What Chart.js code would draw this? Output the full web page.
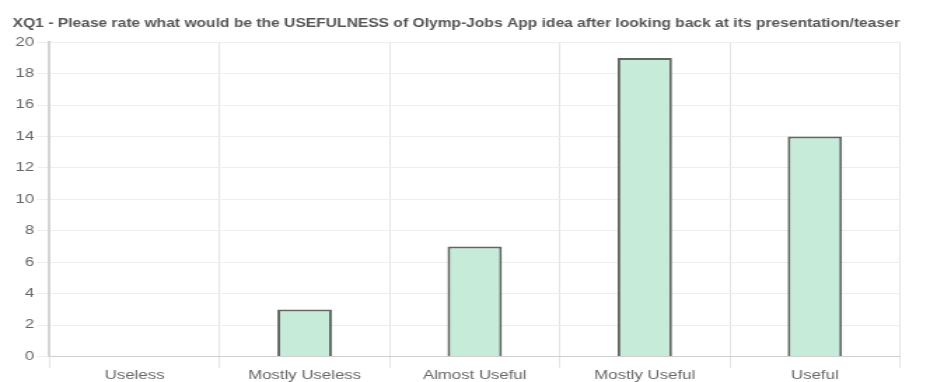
<!DOCTYPE html>
<html>
<head>
<meta charset="utf-8">
<script src="https://cdn.jsdelivr.net/npm/chart.js@4/dist/chart.umd.min.js"></script>
<style>
  html, body { margin: 0; padding: 0; background: #fff; overflow: hidden; }
  /* chart is drawn narrow and stretched sideways to the full width */
  #wrap { width: 664px; height: 382px; transform: scaleX(1.4006); transform-origin: 0 0; }
</style>
</head>
<body>
<div id="wrap"><canvas id="usefulnessChart"></canvas></div>
<script>
// survey answers for XQ1
const categories = ['Useless', 'Mostly Useless', 'Almost Useful', 'Mostly Useful', 'Useful'];
const responses = [0, 3, 7, 19, 14];
const yTicks = [0, 2, 4, 6, 8, 10, 12, 14, 16, 18, 20];

const titleText = 'XQ1 - Please rate what would be the USEFULNESS of Olymp-Jobs App idea after looking back at its presentation/teaser';

Chart.defaults.font.family = '"Liberation Sans", Arial, Helvetica, sans-serif';
Chart.defaults.color = '#666';

const ctx = document.getElementById('usefulnessChart').getContext('2d');
new Chart(ctx, {
    type: 'bar',
    data: {
        labels: categories,
        datasets: [{
            label: 'Responses',
            data: responses,
            backgroundColor: '#c6ebd9',
            borderColor: '#5f6663',
            borderWidth: 2,
            barPercentage: 0.32,
            categoryPercentage: 1
        }]
    },
    options: {
        responsive: true,
        maintainAspectRatio: false,
        animation: false,
        layout: { padding: { left: 9, right: 21.5, top: 0, bottom: -2 } },
        plugins: {
            legend: { display: false },
            tooltip: { enabled: false },
            title: {
                display: true,
                text: titleText,
                align: 'start',
                color: '#555',
                font: { size: 11.85, weight: 'bold' },
                padding: { top: 17, bottom: 11 }
            }
        },
        scales: {
            x: {
                grid: { color: '#e4e4e4', offset: true, tickLength: 11 },
                border: { color: '#cfcfcf' },
                ticks: { font: { size: 12 }, color: '#666', padding: 1 }
            },
            y: {
                min: 0,
                max: 20,
                afterBuildTicks: axis => { axis.ticks = yTicks.map(v => ({ value: v })); },
                grid: { color: '#eeeeee', tickLength: 9 },
                border: { color: '#d4d4d4', width: 2 },
                ticks: { font: { size: 12 }, color: '#666', padding: 2 }
            }
        }
    }
});
</script>
</body>
</html>
